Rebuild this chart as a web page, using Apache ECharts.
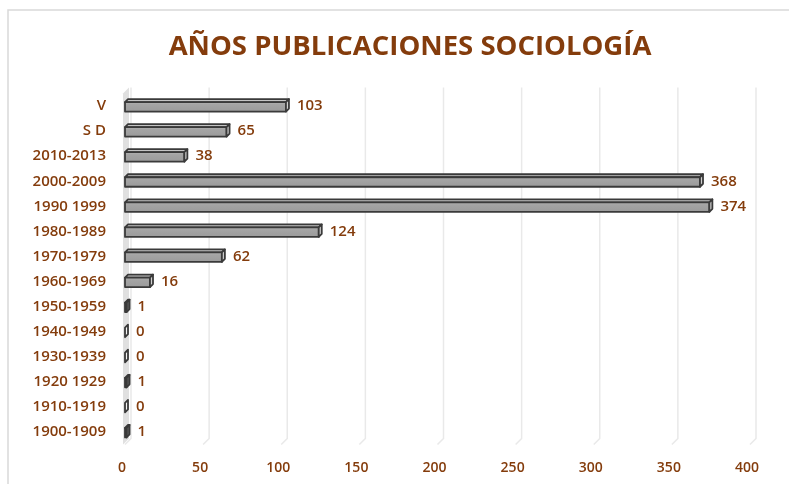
<!DOCTYPE html>
<html>
<head>
<meta charset="utf-8">
<script src="https://cdn.jsdelivr.net/npm/echarts@6/dist/echarts.min.js"></script>
<style>
html,body{margin:0;padding:0;background:#fff;}
#chart{width:789px;height:484px;}
</style>
</head>
<body>
<div id="chart"></div>
<script>
var titleText = 'AÑOS PUBLICACIONES SOCIOLOGÍA';
var categories = ['V', 'S D', '2010-2013', '2000-2009', '1990 1999', '1980-1989', '1970-1979', '1960-1969', '1950-1959', '1940-1949', '1930-1939', '1920 1929', '1910-1919', '1900-1909'];
var values = [103, 65, 38, 368, 374, 124, 62, 16, 1, 0, 0, 1, 0, 1];
var xTicks = [0, 50, 100, 150, 200, 250, 300, 350, 400];

var BROWN = '#843C0C';
var FONT = 'Open Sans';
var D = 3;      // bar depth
var W = 6;      // back wall depth

var chart = echarts.init(document.getElementById('chart'), null, {renderer: 'canvas'});

function renderBar(params, api) {
  var v = api.value(0), c = api.value(1);
  var p0 = api.coord([0, c]);
  var p1 = api.coord([v, c]);
  var x0 = p0[0], x1 = p1[0];
  var yc = p0[1];
  var yf = yc - 4, yb = yc + 5.5;
  var stroke = {stroke: '#3a3a3a', lineWidth: 1.8, lineJoin: 'round'};
  var children = [];
  if (x1 - x0 > 0.01) {
    children.push({type: 'polygon', shape: {points: [[x0, yf], [x1, yf], [x1 + D, yf - D], [x0 + D, yf - D]]},
      style: Object.assign({fill: '#c4c4c4'}, stroke)});
    children.push({type: 'rect', shape: {x: x0, y: yf, width: x1 - x0, height: yb - yf},
      style: Object.assign({fill: {type: 'linear', x: 0, y: 0, x2: 0, y2: 1, colorStops: [
        {offset: 0, color: '#b8b8b8'}, {offset: 0.3, color: '#a4a4a4'}, {offset: 1, color: '#9a9a9a'}]}}, stroke)});
  }
  children.push({type: 'polygon', shape: {points: [[x1, yf], [x1 + D, yf - D], [x1 + D, yb - D], [x1, yb]]},
    style: Object.assign({fill: v > 0 ? '#5a5a5a' : '#f4f4f4'}, stroke)});
  if (v > 5) {
    children[children.length - 1].style.fill = '#d0d0d0';
  }
  return {type: 'group', children: children};
}

function renderGrid(params, api) {
  var v = api.value(0);
  var cs = params.coordSys;
  var top = cs.y, bottom = cs.y + cs.height;
  var x = api.coord([v, 0])[0];
  return {type: 'polyline', shape: {points: [[x + W, top - W], [x + W, bottom - W], [x, bottom]]},
    style: {stroke: '#e9e9e9', lineWidth: 1.5, fill: null}};
}

function renderWall(params, api) {
  var cs = params.coordSys;
  var top = cs.y, bottom = cs.y + cs.height;
  var x = api.coord([0, 0])[0];
  return {type: 'polygon', shape: {points: [[x - 2, top], [x - 2 + W, top - W], [x - 2 + W, bottom - W], [x - 2, bottom]]},
    style: {fill: '#e0e0e0'}};
}

var option = {
  backgroundColor: '#ffffff',
  animation: false,
  title: {
    text: titleText,
    left: 405,
    top: 28,
    textAlign: 'center',
    textStyle: {color: BROWN, fontFamily: FONT, fontWeight: 'bold', fontSize: 27.5}
  },
  graphic: [{
    type: 'rect', z: -10,
    shape: {x: 8, y: 10, width: 820, height: 520},
    style: {fill: null, stroke: '#d9d9d9', lineWidth: 1.5}
  }],
  grid: {left: 125, right: 39, top: 93.5, bottom: 39.5, containLabel: false},
  xAxis: {
    type: 'value', min: 0, max: 400, interval: 50,
    axisLine: {show: false}, axisTick: {show: false}, splitLine: {show: false},
    axisLabel: {color: BROWN, fontFamily: FONT, fontWeight: 600, fontSize: 14, margin: 17, padding: [0, 6, 0, 0]}
  },
  yAxis: {
    type: 'category', data: categories, inverse: true,
    axisLine: {show: false}, axisTick: {show: false}, splitLine: {show: false},
    axisLabel: {color: BROWN, fontFamily: FONT, fontWeight: 600, fontSize: 15, margin: 19}
  },
  series: [
    {type: 'custom', renderItem: renderWall, data: [[0]], z: 1, silent: true},
    {type: 'custom', renderItem: renderGrid, data: xTicks.map(function (t) { return [t]; }), z: 1, silent: true},
    {type: 'custom', renderItem: renderBar, encode: {x: 0, y: 1},
      data: values.map(function (v, i) { return [v, i]; }), z: 3},
    {type: 'bar', data: values, barWidth: 10, z: 4, silent: true,
      itemStyle: {color: 'rgba(0,0,0,0)'},
      label: {show: true, position: 'right', distance: 11, color: BROWN, fontFamily: FONT, fontWeight: 600, fontSize: 15}}
  ]
};
chart.setOption(option);
</script>
</body>
</html>
